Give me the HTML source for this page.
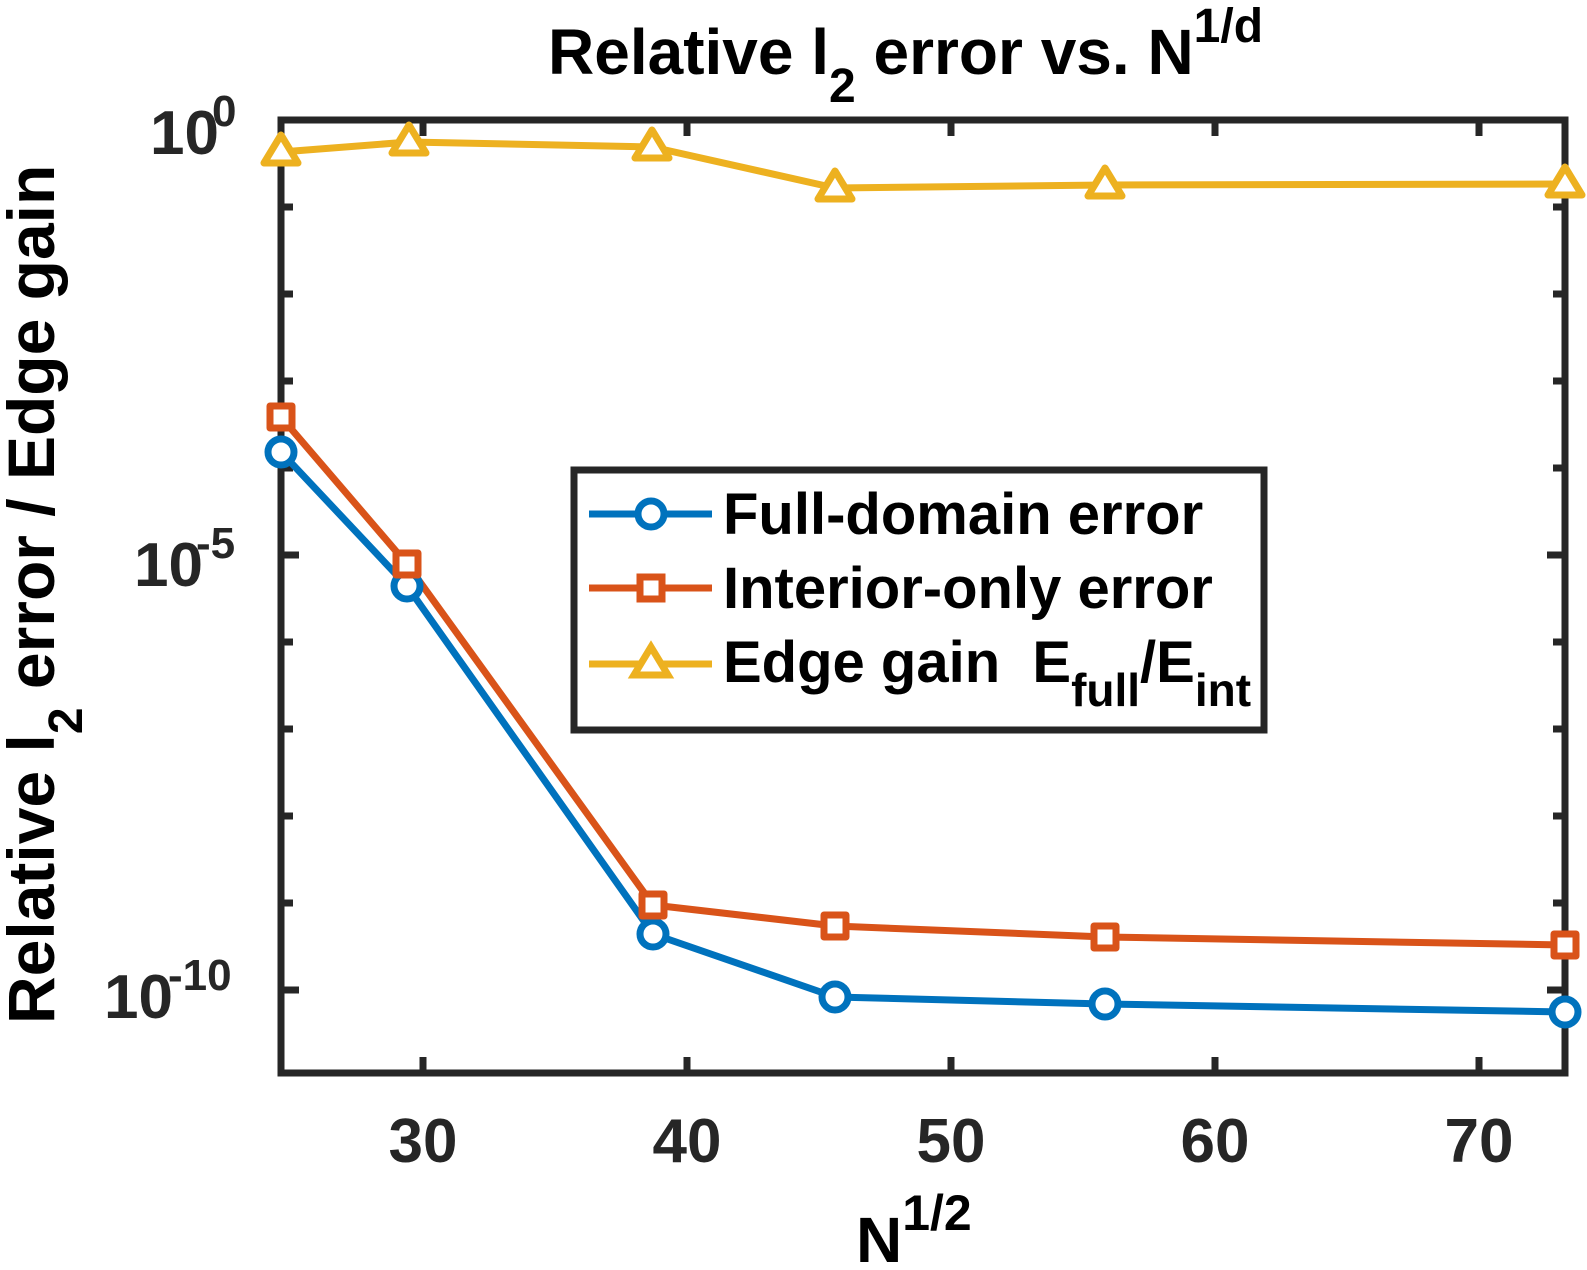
<!DOCTYPE html>
<html><head><meta charset="utf-8"><style>
html,body{margin:0;padding:0;background:#fff;}
svg{display:block;font-family:"Liberation Sans",Arial,sans-serif;font-weight:bold;}
</style></head><body>
<svg width="1587" height="1270" viewBox="0 0 1587 1270" xmlns="http://www.w3.org/2000/svg">
<rect width="1587" height="1270" fill="#fff"/>
<g stroke="#262626" stroke-width="7">
<line x1="423" y1="1073" x2="423" y2="1057"/><line x1="687" y1="1073" x2="687" y2="1057"/><line x1="951" y1="1073" x2="951" y2="1057"/><line x1="1215" y1="1073" x2="1215" y2="1057"/><line x1="1479" y1="1073" x2="1479" y2="1057"/>
<line x1="423" y1="120" x2="423" y2="136"/><line x1="687" y1="120" x2="687" y2="136"/><line x1="951" y1="120" x2="951" y2="136"/><line x1="1215" y1="120" x2="1215" y2="136"/><line x1="1479" y1="120" x2="1479" y2="136"/>
<g id="yt">
<line x1="281" y1="207" x2="293" y2="207"/><line x1="281" y1="294" x2="293" y2="294"/><line x1="281" y1="381" x2="293" y2="381"/><line x1="281" y1="468" x2="293" y2="468"/><line x1="281" y1="555" x2="299" y2="555"/><line x1="281" y1="642" x2="293" y2="642"/><line x1="281" y1="729" x2="293" y2="729"/><line x1="281" y1="816" x2="293" y2="816"/><line x1="281" y1="903" x2="293" y2="903"/><line x1="281" y1="990" x2="299" y2="990"/>
</g>
<g transform="translate(1846,0) scale(-1,1)"><use href="#yt"/></g>
<rect x="281" y="120" width="1284" height="953" fill="none"/>
</g>
<g fill="none" stroke-width="7" stroke-linejoin="round">
<polyline stroke="#0072BD" points="281,452 407,586 653,934 835,997 1105,1004 1565,1012"/>
<polyline stroke="#D95319" points="281,417 407,564 653,905 835,926 1105,937 1565,945"/>
<polyline stroke="#EDB120" points="281,152 409,142 652,147 835,188 1105,185 1565,184"/>
<g stroke="#0072BD" fill="#fff">
<circle cx="281" cy="452" r="13"/><circle cx="407" cy="586" r="13"/><circle cx="653" cy="934" r="13"/><circle cx="835" cy="997" r="13"/><circle cx="1105" cy="1004" r="13"/><circle cx="1565" cy="1012" r="13"/>
</g>
<g stroke="#D95319" fill="#fff">
<rect x="270" y="406" width="22" height="22"/><rect x="396" y="553" width="22" height="22"/><rect x="642" y="894" width="22" height="22"/><rect x="824" y="915" width="22" height="22"/><rect x="1094" y="926" width="22" height="22"/><rect x="1554" y="934" width="22" height="22"/>
</g>
<g stroke="#EDB120" fill="#fff">
<polygon points="281,135 264,163 298,163"/><polygon points="409,125 392,153 426,153"/><polygon points="652,130 635,158 669,158"/><polygon points="835,171 818,199 852,199"/><polygon points="1105,168 1088,196 1122,196"/><polygon points="1565,167 1548,195 1582,195"/>
</g>
</g>
<g font-size="62" fill="#262626" text-anchor="middle">
<text x="423" y="1162">30</text><text x="687" y="1162">40</text><text x="951" y="1162">50</text><text x="1215" y="1162">60</text><text x="1479" y="1162">70</text>
</g>
<g font-size="62" fill="#262626">
<text x="150" y="154">10</text><text x="212" y="126" font-size="44">0</text>
<text x="134" y="586">10</text><text x="196" y="558" font-size="44">-5</text>
<text x="104" y="1018">10</text><text x="168" y="990" font-size="44">-10</text>
</g>
<text x="548" y="74" font-size="64" fill="#000">Relative l<tspan font-size="48" dy="28">2</tspan><tspan dy="-28"> error vs. N</tspan><tspan font-size="48" dy="-32">1/d</tspan></text>
<text x="856" y="1262" font-size="64" fill="#000">N<tspan font-size="50" dy="-32">1/2</tspan></text>
<text transform="translate(54,1024) rotate(-90)" font-size="66" fill="#000">Relative l<tspan font-size="48" dy="28">2</tspan><tspan dy="-28"> error / Edge gain</tspan></text>
<rect x="574" y="470" width="690" height="260" fill="#fff" stroke="#262626" stroke-width="7"/>
<g stroke-width="7" fill="#fff">
<line x1="589" y1="514" x2="712" y2="514" stroke="#0072BD"/><circle cx="651" cy="514" r="13" stroke="#0072BD"/>
<line x1="589" y1="588" x2="712" y2="588" stroke="#D95319"/><rect x="640" y="577" width="22" height="22" stroke="#D95319"/>
<line x1="589" y1="664" x2="712" y2="664" stroke="#EDB120"/><polygon points="651,647 634,675 668,675" stroke="#EDB120"/>
</g>
<g font-size="58" fill="#000">
<text x="723" y="534">Full-domain error</text>
<text x="723" y="608">Interior-only error</text>
<text x="723" y="682" xml:space="preserve">Edge gain  E<tspan font-size="46" dy="24">full</tspan><tspan dy="-24">/E</tspan><tspan font-size="46" dy="24">int</tspan></text>
</g>
</svg>
</body></html>
